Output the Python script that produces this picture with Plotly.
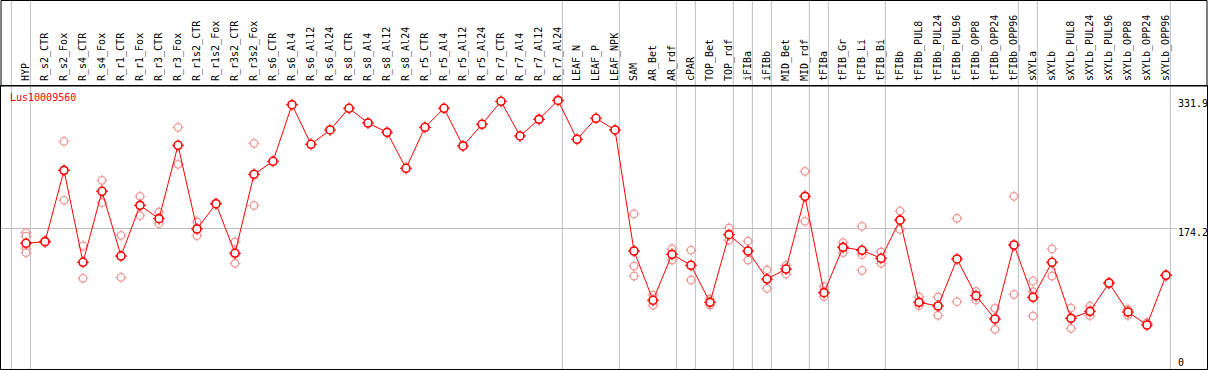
import plotly.graph_objects as go

categories = ["HYP", "R_s2_CTR", "R_s2_Fox", "R_s4_CTR", "R_s4_Fox", "R_r1_CTR", "R_r1_Fox",
              "R_r3_CTR", "R_r3_Fox", "R_r1s2_CTR", "R_r1s2_Fox", "R_r3s2_CTR", "R_r3s2_Fox",
              "R_s6_CTR", "R_s6_Al4", "R_s6_Al12", "R_s6_Al24", "R_s8_CTR", "R_s8_Al4",
              "R_s8_Al12", "R_s8_Al24", "R_r5_CTR", "R_r5_Al4", "R_r5_Al12", "R_r5_Al24",
              "R_r7_CTR", "R_r7_Al4", "R_r7_Al12", "R_r7_Al24", "LEAF_N", "LEAF_P", "LEAF_NPK",
              "SAM", "AR_Bet", "AR_rdf", "cPAR", "TOP_Bet", "TOP_rdf", "iFIBa", "iFIBb",
              "MID_Bet", "MID_rdf", "tFIBa", "tFIB_Gr", "tFIB_Li", "tFIB_Bi", "tFIBb",
              "tFIBb_PUL8", "tFIBb_PUL24", "tFIBb_PUL96", "tFIBb_OPP8", "tFIBb_OPP24",
              "tFIBb_OPP96", "sXYLa", "sXYLb", "sXYLb_PUL8", "sXYLb_PUL24", "sXYLb_PUL96",
              "sXYLb_OPP8", "sXYLb_OPP24", "sXYLb_OPP96"]

mean_values = [156, 158, 245.8, 132.6, 220, 140.3, 202.7, 186.3, 276.6, 173.6, 204.7, 143.7,
               240.9, 256.9, 326.6, 277.9, 295.5, 322.2, 304.1, 292.6, 248.3, 298.8, 322.2,
               275.8, 302.5, 330.8, 288.1, 308.6, 331.9, 284, 309.9, 295.5,
               146.5, 85.8, 142.4, 128.9, 83.3, 166.6, 146.5, 112, 124.3, 213.8, 95.2,
               151, 147.4, 137.5, 184.5, 83.3, 78.8, 136.7, 91.5, 62.8, 153.9, 89.5,
               132.6, 63.6, 72.2, 107.1, 71.4, 55.4, 116.6]

replicates = [[169, 164.7, 150, 144.4], [157, 159], [281.5, 208.9], [152.7, 112.9], [233.5, 206],
              [165.8, 114.1], [213.8, 190], [194.5, 180.1], [298.8, 253.2], [182.2, 165.3],
              [204, 205.5], [157.6, 131.4], [279.1, 202.7], [], [], [], [], [], [], [], [], [],
              [], [], [], [], [], [], [], [], [], [],
              [192.1, 146.5, 128, 115.7], [92.3, 79.6], [149, 135.4], [147.7, 110.8],
              [87.4, 80], [174.8, 160], [158.8, 135.4], [123.1, 100.6], [128.9, 118.2],
              [244.6, 183], [102.6, 90.2], [156.7, 144.4], [176.9, 142, 122.7], [145.3, 131.4],
              [195.7, 173.2], [89.9, 79.2], [89.9, 67.3], [186.8, 84.1], [96.9, 86.2],
              [75.9, 50.1], [213.8, 93.2], [109.6, 96.4, 66.5], [149, 115.7], [76.3, 51.3],
              [78.8, 66.9], [106, 108], [74.7, 67.3], [58.2], [116, 117.5]]

group_breaks = [-1, 0, 28, 31, 34, 35, 37, 38, 39, 41, 42, 45, 52, 53, 60]
y_ticks = [331.9, 174.2]
gene_label = "Lus10009560"

x_idx = list(range(len(categories)))
rep_x = [i for i, reps in enumerate(replicates) for _ in reps]
rep_y = [v for reps in replicates for v in reps]

FONT = "DejaVu Sans Mono"
RED = "#ff0000"
PALE = "#f09a9a"
W, H = 1209, 370
ML, MR, MT, MB = 1, 2, 86, 1
plot_h = H - MT - MB
hdr = 1 + (MT - 0.5) / plot_h

fig = go.Figure()
# replicate points: small spiked open circles
fig.add_trace(go.Scatter(
    x=rep_x, y=rep_y, mode="markers",
    marker=dict(symbol="cross-thin-open", size=8, color=PALE, line=dict(width=1, color=PALE)),
    hoverinfo="skip", showlegend=False))
fig.add_trace(go.Scatter(
    x=rep_x, y=rep_y, mode="markers",
    marker=dict(symbol="circle", size=7.5, color="white", line=dict(width=1.3, color=PALE)),
    hoverinfo="skip", showlegend=False))
# mean line with spiked circles
fig.add_trace(go.Scatter(
    x=x_idx, y=mean_values, mode="lines+markers",
    line=dict(color=RED, width=1),
    marker=dict(symbol="cross-thin-open", size=8.6, color=RED, line=dict(width=1, color=RED)),
    showlegend=False))
fig.add_trace(go.Scatter(
    x=x_idx, y=mean_values, mode="markers",
    marker=dict(symbol="circle", size=8, color="white", line=dict(width=1.6, color=RED)),
    showlegend=False))

shapes = []
for b in group_breaks:
    shapes.append(dict(type="line", xref="x", yref="paper", x0=b + 0.23, x1=b + 0.23,
                       y0=0, y1=hdr, line=dict(color="#c0c0c0", width=1), layer="below"))
label_x_paper = (1177 - ML) / (W - ML - MR)
shapes.append(dict(type="line", xref="paper", yref="y", x0=0, x1=label_x_paper,
                   y0=y_ticks[1], y1=y_ticks[1], line=dict(color="#c0c0c0", width=1), layer="below"))
shapes.append(dict(type="rect", xref="paper", yref="paper", x0=0, x1=1, y0=1, y1=hdr,
                   line=dict(color="black", width=1), layer="above"))
fig.update_layout(shapes=shapes)

annotations = [dict(text=gene_label, xref="paper", yref="paper", x=(8 - ML) / (W - ML - MR),
                    y=1 - (90 - MT) / plot_h, xanchor="left", yanchor="top", showarrow=False,
                    font=dict(family=FONT, size=10, color=RED))]
for t in y_ticks:
    annotations.append(dict(text=str(t), xref="paper", yref="y", x=label_x_paper, y=t,
                            xanchor="left", yanchor="top", showarrow=False, yshift=3,
                            font=dict(family=FONT, size=10, color="black"), borderpad=0))
annotations.append(dict(text="0", xref="paper", yref="paper", x=label_x_paper,
                        y=0, xanchor="left", yanchor="bottom", showarrow=False,
                        font=dict(family=FONT, size=10, color="black"), borderpad=0))
fig.update_layout(annotations=annotations)

fig.update_xaxes(range=[(1 - 26) / 19.0, (W - MR - 26) / 19.0], side="top",
                 tickmode="array", tickvals=x_idx, ticktext=categories, tickangle=-90,
                 tickfont=dict(family=FONT, size=10, color="black"), ticks="",
                 ticklabelstandoff=2,
                 showgrid=False, zeroline=False, showline=True, linecolor="black",
                 linewidth=1, mirror=True, fixedrange=True)
fig.update_yaxes(range=[(370 - 369) * 1.2311, (370 - 86) * 1.2311], showticklabels=False,
                 ticks="", showgrid=False, zeroline=False, showline=True, linecolor="black",
                 linewidth=1, mirror=True, fixedrange=True)
fig.update_layout(width=W, height=H, margin=dict(l=ML, r=MR, t=MT, b=MB, pad=0),
                  paper_bgcolor="white", plot_bgcolor="white", showlegend=False)

fig.write_html("out.html", config={"displayModeBar": False},
               post_script="document.body.style.margin='0';document.body.style.padding='0';"
                           "document.body.style.overflow='hidden';")
